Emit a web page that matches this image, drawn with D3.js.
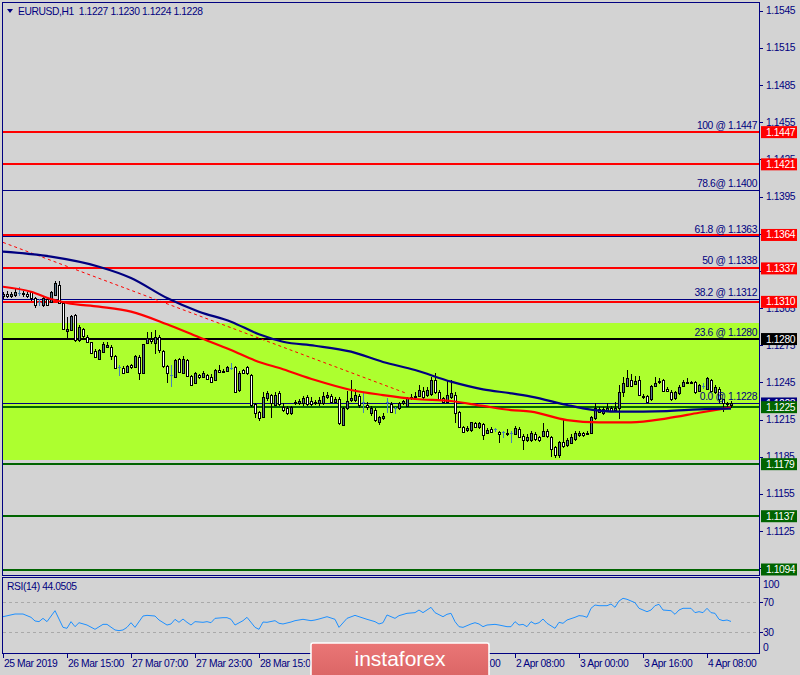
<!DOCTYPE html>
<html><head><meta charset="utf-8">
<script src="https://cdn.jsdelivr.net/npm/d3@7"></script>
<style>
body{margin:0;background:#d3d3d3;}
svg{display:block;}
text{font-family:"Liberation Sans",Arial,sans-serif;}
</style>
</head><body>
<svg id="c" width="800" height="675"></svg>
<script>
// ---------------- DATA ----------------
const titleText = "EURUSD,H1  1.1227 1.1230 1.1224 1.1228";
const rsiTitle = "RSI(14) 44.0505";

const opens = [1.1315,1.1316,1.1315,1.13155,1.1317,1.1317,1.1316,1.1318,1.1313,1.1310,
 1.13075,1.1312,1.1310,1.13155,1.13236,1.13088,1.12868,1.12873,1.12994,1.12792,
 1.12878,1.12819,1.12779,1.12706,1.12636,1.12698,1.12738,1.12738,1.12663,1.12577,
 1.12569,1.12537,1.12593,1.12577,1.12658,1.12529,1.12771,1.12803,1.12771,1.12819,
 1.12706,1.12582,1.1251,1.12496,1.12636,1.12529,1.12631,1.12502,1.12442,1.1251,
 1.12496,1.1251,1.12491,1.12469,1.1255,1.12537,1.1254,1.1257,1.12572,1.12389,
 1.1255,1.12572,1.1251,1.12276,1.12214,1.12173,1.12327,1.12348,1.12268,1.12362,
 1.12254,1.12246,1.12205,1.12281,1.12281,1.12281,1.1233,1.1230,1.12281,1.12287,
 1.12287,1.1233,1.12341,1.12295,1.12314,1.12106,1.12241,1.12308,1.12308,1.12341,
 1.1229,1.12268,1.12206,1.12227,1.12133,1.1216,1.12295,1.12276,1.1224,1.12241,
 1.12281,1.12262,1.12322,1.12335,1.12341,1.12381,1.12348,1.12356,1.12469,1.12375,
 1.12322,1.12295,1.12335,1.12348,1.12214,1.12093,1.12066,1.12066,1.1212,1.12088,
 1.12112,1.1204,1.12074,1.1207,1.12047,1.1205,1.12036,1.1204,1.12036,1.12074,
 1.1202,1.11985,1.11985,1.12034,1.12007,1.12018,1.12058,1.12007,1.11931,1.11864,
 1.11966,1.11945,1.11964,1.11991,1.12026,1.12039,1.12039,1.12039,1.1216,1.12233,
 1.1220,1.12227,1.1224,1.12227,1.12241,1.1237,1.12422,1.12469,1.12435,1.12469,
 1.12341,1.12341,1.12313,1.12421,1.12455,1.12469,1.12394,1.12375,1.12322,1.12362,
 1.12424,1.12443,1.12451,1.12451,1.12383,1.1242,1.1240,1.12469,1.12375,1.1240,
 1.12313,1.12286,1.1227];
const highs = [1.1318,1.1319,1.1318,1.1320,1.1322,1.1319,1.1318,1.1319,1.1314,1.1312,
 1.1314,1.1313,1.1319,1.13265,1.13265,1.1310,1.1298,1.12994,1.1300,1.12913,
 1.1289,1.1283,1.1278,1.1272,1.1272,1.1278,1.1278,1.1275,1.1267,1.1259,
 1.1258,1.1259,1.1260,1.1267,1.1267,1.1276,1.1286,1.1286,1.1287,1.1283,
 1.1271,1.1259,1.1259,1.1264,1.1265,1.1266,1.1264,1.1251,1.1253,1.1252,
 1.1254,1.1252,1.1252,1.1256,1.1259,1.1256,1.1258,1.1261,1.1258,1.1254,
 1.1256,1.1258,1.1252,1.1228,1.1222,1.12375,1.1238,1.1236,1.1237,1.1238,
 1.1228,1.1226,1.1226,1.1231,1.1232,1.1234,1.1235,1.1233,1.1231,1.1233,
 1.1237,1.1237,1.1236,1.1233,1.1233,1.1225,1.1238,1.12469,1.1240,1.1236,
 1.12362,1.1229,1.1226,1.1224,1.1218,1.1220,1.12322,1.1229,1.1225,1.1229,
 1.1231,1.1233,1.1236,1.1237,1.1243,1.1241,1.1241,1.12496,1.12523,1.1239,
 1.1233,1.12469,1.12469,1.1237,1.1222,1.1210,1.1210,1.1213,1.1213,1.1213,
 1.1212,1.1208,1.1209,1.12085,1.1206,1.12058,1.1207,1.1206,1.1210,1.1209,
 1.1203,1.1203,1.1206,1.1205,1.1202,1.1212,1.1207,1.1202,1.1194,1.1198,
 1.12147,1.1200,1.1203,1.1206,1.1206,1.1205,1.1206,1.1218,1.12281,1.1225,
 1.1225,1.12281,1.1226,1.12295,1.12429,1.12496,1.1255,1.1252,1.1250,1.1250,
 1.1236,1.1235,1.1243,1.12496,1.12483,1.1248,1.1241,1.1239,1.1238,1.1243,
 1.1247,1.12483,1.1246,1.1246,1.1244,1.12443,1.12496,1.1248,1.1243,1.1241,
 1.1232,1.1229,1.1230];
const lows = [1.1312,1.1313,1.1313,1.1314,1.1315,1.1314,1.1313,1.1311,1.1305,1.13065,
 1.1306,1.1307,1.1309,1.1315,1.1308,1.1287,1.12806,1.1287,1.1278,1.1278,
 1.1281,1.1277,1.1268,1.1265,1.1263,1.1269,1.1273,1.1263,1.1256,1.1250,
 1.1252,1.1253,1.1256,1.1257,1.1247,1.1252,1.1276,1.1276,1.1268,1.1269,
 1.1257,1.12442,1.12415,1.1249,1.1253,1.1252,1.1249,1.1242,1.1244,1.1248,
 1.1249,1.1247,1.1245,1.1246,1.1253,1.1253,1.1253,1.1255,1.1237,1.1237,
 1.1252,1.1251,1.1225,1.1216,1.1214,1.1216,1.1230,1.1216,1.1226,1.1226,
 1.1221,1.1219,1.1219,1.1227,1.1227,1.1226,1.1226,1.1226,1.1227,1.1226,
 1.1227,1.1232,1.1228,1.1228,1.1211,1.1210,1.1223,1.1229,1.1229,1.1224,
 1.1220,1.1223,1.1218,1.1213,1.1211,1.1215,1.12205,1.1220,1.12195,1.1223,
 1.1227,1.1225,1.1231,1.1233,1.1233,1.1232,1.1233,1.1234,1.1236,1.1230,
 1.1228,1.1228,1.1232,1.1212,1.1208,1.1204,1.1205,1.1205,1.1208,1.1207,
 1.11985,1.1203,1.1204,1.1205,1.1196,1.12004,1.1202,1.11958,1.1203,1.1200,
 1.11904,1.1197,1.1197,1.1198,1.1197,1.1201,1.1200,1.11851,1.11837,1.1184,
 1.1192,1.1193,1.1195,1.1198,1.1201,1.1201,1.1203,1.1203,1.1215,1.1220,
 1.1219,1.1222,1.1221,1.1222,1.12152,1.12335,1.1241,1.1241,1.1243,1.1234,
 1.1232,1.12281,1.1230,1.1241,1.1244,1.1237,1.1237,1.1230,1.1231,1.1235,
 1.1241,1.1244,1.1244,1.1236,1.1237,1.1240,1.1239,1.1237,1.1236,1.1228,
 1.12214,1.12254,1.1224];
const closes = [1.1316,1.1315,1.1316,1.1318,1.1317,1.1316,1.1315,1.1313,1.13075,1.1310,
 1.1313,1.13075,1.1318,1.1325,1.13088,1.12878,1.12878,1.12986,1.12792,1.1290,
 1.12824,1.12779,1.1269,1.12652,1.12711,1.1276,1.12752,1.12663,1.12564,1.12577,
 1.12529,1.12582,1.12572,1.12663,1.12523,1.12757,1.12806,1.12787,1.12814,1.12711,
 1.12582,1.12523,1.1251,1.12631,1.12537,1.12639,1.12502,1.12426,1.12523,1.12491,
 1.12529,1.1248,1.12456,1.1255,1.12537,1.12545,1.12572,1.1257,1.12375,1.12529,
 1.12529,1.12523,1.12268,1.12206,1.1216,1.12335,1.12367,1.12281,1.12348,1.12276,
 1.12227,1.1220,1.12249,1.12295,1.12303,1.12322,1.12276,1.12276,1.12295,1.12308,
 1.12341,1.12348,1.12295,1.12314,1.1212,1.12241,1.1230,1.12322,1.12348,1.12268,
 1.1229,1.12254,1.12241,1.12147,1.12168,1.12179,1.12295,1.12214,1.1224,1.12281,
 1.1230,1.12322,1.12335,1.12343,1.12389,1.12335,1.12389,1.12469,1.12375,1.12308,
 1.12295,1.12348,1.12367,1.12206,1.12093,1.12052,1.12079,1.12128,1.12093,1.12125,
 1.12026,1.12066,1.12047,1.1207,1.1203,1.1205,1.12044,1.1204,1.12082,1.12012,
 1.11988,1.12012,1.12039,1.11993,1.11985,1.12058,1.12018,1.1191,1.11864,1.11972,
 1.11937,1.11985,1.12012,1.12039,1.12045,1.12026,1.12045,1.12173,1.1224,1.12208,
 1.12233,1.1224,1.12222,1.12246,1.12375,1.12443,1.12483,1.12422,1.12461,1.12348,
 1.12333,1.12294,1.12418,1.12443,1.12463,1.12383,1.12383,1.12316,1.1237,1.12416,
 1.12456,1.12456,1.12447,1.12375,1.12429,1.1242,1.12483,1.12383,1.12416,1.12313,
 1.12281,1.1228,1.1228];

// moving averages (sampled at bar indices)
const maBlueBars = [0,12,24,32,41,49,57,64,70,78,87,95,103,112,120,127,132,141,145,154,166,174,182];
const maBlueVals = [1.13505,1.13465,1.13384,1.13293,1.13131,1.13021,1.1294,1.12838,1.12778,1.12746,1.12698,1.12615,1.1255,1.12456,1.12394,1.12362,1.12335,1.12268,1.12241,1.12214,1.12219,1.12233,1.12238];
const maRedBars = [0,7,12,16,24,32,41,49,57,63,70,78,87,95,103,112,120,127,132,141,149,157,166,174,182];
const maRedVals = [1.13222,1.13182,1.13123,1.13091,1.13061,1.13021,1.12919,1.12814,1.12711,1.12627,1.12556,1.12469,1.12389,1.12348,1.12316,1.123,1.1226,1.12227,1.12214,1.12146,1.12128,1.12128,1.1216,1.12205,1.12248];

// RSI(14)
const rsiBars = [0,3,5,7,8,9,10,11,13,15,16,17,18,19,21,23,25,26,28,29,30,31,32,33,35,36,38,39,41,42,43,44,45,46,47,48,50,51,52,53,55,56,57,58,60,61,63,64,65,66,68,69,70,72,73,75,77,78,79,81,83,84,86,88,89,91,93,94,95,96,98,99,101,103,104,105,107,108,110,111,112,113,114,115,117,118,119,120,121,123,124,126,127,128,129,130,131,132,133,134,135,136,138,139,140,141,143,144,145,146,147,148,149,151,152,153,154,155,156,158,159,161,162,163,164,165,167,168,169,170,172,173,174,175,176,177,178,179,180,181,182];
const rsiVals = [50.4,54,54,49.6,44.7,43.8,48.2,43.8,58.4,36.2,34.9,43.8,37.1,42.4,39.3,33.6,40.2,40.2,32.7,31.8,32.7,36.2,42.4,36.2,51.3,52.2,51.3,46,39.3,40.7,46.9,42.9,47.3,42.9,39.3,43.8,42.9,43.8,42.4,48.2,49.1,49.1,46.9,39.3,45.1,49.6,36.2,33.6,43.3,42.9,45.1,41.6,40.7,43.3,45.1,46.9,45.1,46,47.3,50.4,46.9,36.2,48.2,52.2,50.4,46.9,43.8,40.7,42.4,52.7,48.2,51.8,54.9,55.8,59.3,55.8,62.9,55.8,50.4,53.6,54.9,43.8,37.1,36.2,40.7,42.4,40.7,37.1,39.3,40.2,39.3,37.1,37.1,43.8,39.3,40.2,37.1,43.8,40.7,42.4,47.3,41.6,34.9,42.9,41.6,46,49.6,51.8,51.3,49.6,61.6,66,65.1,65.1,67.3,62.9,71.3,74.9,73.6,69.1,61.6,57.1,59.3,65.1,66.9,59.3,58.4,53.6,59.3,61.6,61.6,55.8,57.1,55.8,61.6,55.8,54.9,46.9,45.1,46,44.05];
const rsiLevels = [70, 30];
const rsiTickVals = [100, 70, 30, 0];

const priceTicks = [1.1545,1.1515,1.1485,1.1455,1.1425,1.1395,1.1365,1.1335,1.1305,1.1275,1.1245,1.1215,1.1185,1.1155,1.1125,1.1095];
const timeLabelBars = [0,16,32,48,64,80,96,112,128,144,160,176];
const timeLabels = ["25 Mar 2019","26 Mar 15:00","27 Mar 07:00","27 Mar 23:00","28 Mar 15:00","29 Mar 07:00","29 Mar 23:00","1 Apr 16:00","2 Apr 08:00","3 Apr 00:00","3 Apr 16:00","4 Apr 08:00"];

const levelPrices = [1.1447,1.1421,1.1364,1.1337,1.1310,1.1280,1.1225,1.1179,1.1137,1.1094];
const levelColors = ["#ff0000","#ff0000","#ff0000","#ff0000","#ff0000","#000000","#006400","#006400","#006400","#006400"];
const fibPrices = [1.1447,1.1400,1.1363,1.1338,1.1312,1.1280,1.1228];
const fibTexts = ["100 @ 1.1447","78.6@ 1.1400","61.8 @ 1.1363","50 @ 1.1338","38.2 @ 1.1312","23.6 @ 1.1280","0.0 @ 1.1228"];
const zonePrices = [1.1293, 1.1182];
const trendBars = [0, 101];
const trendPrices = [1.1358, 1.1236];
const lastPrice = 1.1228;

// ---------------- LAYOUT ----------------
const W = 800, H = 675;
const L = 2, R = 759;
const mainTop = 2, mainBot = 575;
const rsiTop = 577, rsiBot = 653;
const navy = "#000080";

const svg = d3.select("#c");
const x = d3.scaleLinear().domain([0, 182]).range([3, 731]);
const y = d3.scaleLinear().domain([1.1545, 1.1094]).range([10.7, 569.5]);
const yr = d3.scaleLinear().domain([0, 100]).range([654.5, 579.5]);
const ls = "-0.4px";
const fs = "10.3px";

svg.append("rect").attr("width", W).attr("height", H).attr("fill", "#d3d3d3");

const main = svg.append("g");
svg.append("clipPath").attr("id", "mclip").append("rect")
  .attr("x", L + 1).attr("y", mainTop + 1).attr("width", R - L - 1).attr("height", mainBot - mainTop - 1);
const pg = main.append("g").attr("clip-path", "url(#mclip)").attr("shape-rendering", "crispEdges");

// zone rectangle
pg.append("rect").attr("x", L).attr("width", R - L)
  .attr("y", y(zonePrices[0])).attr("height", y(zonePrices[1]) - y(zonePrices[0]))
  .attr("fill", "#adff2f");

// fib lines
pg.selectAll(".fib").data(fibPrices).enter().append("line")
  .attr("x1", L).attr("x2", R).attr("y1", d => Math.round(y(d)) + 0.5).attr("y2", d => Math.round(y(d)) + 0.5)
  .attr("stroke", navy).attr("stroke-width", 1);

// horizontal levels
pg.selectAll(".lvl").data(levelPrices).enter().append("line")
  .attr("x1", L).attr("x2", R).attr("y1", d => Math.round(y(d))).attr("y2", d => Math.round(y(d)))
  .attr("stroke", (d, i) => levelColors[i]).attr("stroke-width", 2);

// dashed trend line
pg.append("line")
  .attr("x1", x(trendBars[0])).attr("y1", y(trendPrices[0]))
  .attr("x2", x(trendBars[1])).attr("y2", y(trendPrices[1]))
  .attr("stroke", "#ff0000").attr("stroke-width", 1).attr("stroke-dasharray", "3,3")
  .attr("shape-rendering", "auto");

// fib texts
main.selectAll(".fibt").data(fibPrices).enter().append("text")
  .attr("x", 757).attr("y", d => y(d) - 3).attr("text-anchor", "end")
  .attr("font-size", fs).attr("letter-spacing", ls).attr("fill", navy)
  .text((d, i) => fibTexts[i]);

// candles
const cg = pg.append("g");
d3.range(opens.length).forEach(i => {
  const cx = Math.round(x(i));
  const o = opens[i], c = closes[i], h = highs[i], l = lows[i];
  const yh = Math.round(y(h)), yl = Math.round(y(l));
  const doji = o === c;
  const wickCol = doji ? "#4682b4" : "#000000";
  cg.append("rect").attr("x", cx).attr("y", yh).attr("width", 1).attr("height", Math.max(1, yl - yh)).attr("fill", wickCol);
  if (doji) {
    cg.append("rect").attr("x", cx - 1).attr("y", Math.round(y(o))).attr("width", 3).attr("height", 1).attr("fill", "#4682b4");
  } else {
    const yt = Math.round(y(Math.max(o, c))), yb = Math.round(y(Math.min(o, c)));
    const hh = Math.max(1, yb - yt);
    cg.append("rect").attr("x", cx - 1).attr("y", yt).attr("width", 3).attr("height", hh + 1).attr("fill", "#000000");
    if (hh > 1) {
      cg.append("rect").attr("x", cx).attr("y", yt + 1).attr("width", 1).attr("height", hh - 1)
        .attr("fill", c > o ? "#5a7590" : "#ffffff");
    }
  }
});

// moving averages
const lineGen = d3.line().x(d => x(d[0])).y(d => y(d[1])).curve(d3.curveMonotoneX);
pg.append("path").datum(maRedBars.map((b, i) => [b, maRedVals[i]]))
  .attr("d", lineGen).attr("fill", "none").attr("stroke", "#ff0000").attr("stroke-width", 2.2).attr("shape-rendering", "auto");
pg.append("path").datum(maBlueBars.map((b, i) => [b, maBlueVals[i]]))
  .attr("d", lineGen).attr("fill", "none").attr("stroke", "#000080").attr("stroke-width", 2.2).attr("shape-rendering", "auto");

// frames
svg.append("rect").attr("x", L + 0.5).attr("y", mainTop + 0.5).attr("width", R - L).attr("height", mainBot - mainTop)
  .attr("fill", "none").attr("stroke", navy).attr("stroke-width", 1);
svg.append("rect").attr("x", L + 0.5).attr("y", rsiTop + 0.5).attr("width", R - L).attr("height", rsiBot - rsiTop)
  .attr("fill", "none").attr("stroke", navy).attr("stroke-width", 1);

// price axis ticks + labels
const ax = svg.append("g");
ax.selectAll(".pt").data(priceTicks).enter().append("line")
  .attr("x1", R).attr("x2", R + 4).attr("y1", d => Math.round(y(d)) + 0.5).attr("y2", d => Math.round(y(d)) + 0.5)
  .attr("stroke", navy);
ax.selectAll(".ptl").data(priceTicks).enter().append("text")
  .attr("x", 766).attr("y", d => y(d) + 3.5).attr("font-size", fs).attr("letter-spacing", ls)
  .attr("fill", navy).text(d => d.toFixed(4));

// current price box (behind)
ax.append("rect").attr("x", 761).attr("y", y(lastPrice) - 6).attr("width", 36).attr("height", 12).attr("fill", navy);
ax.append("text").attr("x", 766).attr("y", y(lastPrice) + 3.5).attr("font-size", fs).attr("letter-spacing", ls)
  .attr("fill", "#ffffff").text(lastPrice.toFixed(4));

// level boxes
levelPrices.forEach((p, i) => {
  ax.append("rect").attr("x", 761).attr("y", y(p) - 6).attr("width", 36).attr("height", 12).attr("fill", levelColors[i]);
  ax.append("text").attr("x", 766).attr("y", y(p) + 3.5).attr("font-size", fs).attr("letter-spacing", ls)
    .attr("fill", "#ffffff").text(p.toFixed(4));
});

// title
svg.append("path").attr("d", "M7,9 L13,9 L10,13 Z").attr("fill", navy);
svg.append("text").attr("x", 18).attr("y", 15).attr("font-size", fs).attr("letter-spacing", ls)
  .attr("fill", navy).style("white-space", "pre").text(titleText);

// RSI panel
const rg = svg.append("g");
rg.selectAll(".rl").data(rsiLevels).enter().append("line")
  .attr("x1", L + 1).attr("x2", R).attr("y1", d => Math.round(yr(d)) + 0.5).attr("y2", d => Math.round(yr(d)) + 0.5)
  .attr("stroke", "#a9a9a9").attr("stroke-dasharray", "3,3");
rg.append("path").datum(rsiBars.map((b, i) => [b, rsiVals[i]]))
  .attr("d", d3.line().x(d => x(d[0])).y(d => yr(d[1])))
  .attr("fill", "none").attr("stroke", "#1e90ff").attr("stroke-width", 1);
rg.append("text").attr("x", 7).attr("y", 590).attr("font-size", fs).attr("letter-spacing", ls)
  .attr("fill", navy).text(rsiTitle);
rg.selectAll(".rtl").data(rsiTickVals).enter().append("text")
  .attr("x", 763).attr("y", d => Math.min(651, Math.max(588, yr(d) + 3.5)))
  .attr("font-size", fs).attr("letter-spacing", ls).attr("fill", navy).text(d => d);
rg.selectAll(".rt").data(rsiLevels).enter().append("line")
  .attr("x1", R).attr("x2", R + 4).attr("y1", d => Math.round(yr(d)) + 0.5).attr("y2", d => Math.round(yr(d)) + 0.5)
  .attr("stroke", navy);

// time axis
const tg = svg.append("g");
tg.selectAll(".tt").data(timeLabelBars).enter().append("line")
  .attr("x1", d => Math.round(x(d)) + 0.5).attr("x2", d => Math.round(x(d)) + 0.5)
  .attr("y1", rsiBot).attr("y2", rsiBot + 5).attr("stroke", navy);
tg.selectAll(".ttl").data(timeLabelBars).enter().append("text")
  .attr("x", d => x(d) + 1).attr("y", 667).attr("font-size", fs).attr("letter-spacing", ls)
  .attr("fill", navy).text((d, i) => timeLabels[i]);

// watermark
const defs = svg.append("defs");
const gr = defs.append("linearGradient").attr("id", "wm").attr("x1", 0).attr("y1", 0).attr("x2", 0).attr("y2", 1);
gr.append("stop").attr("offset", "0%").attr("stop-color", "#ea7676");
gr.append("stop").attr("offset", "100%").attr("stop-color", "#d86262");
svg.append("rect").attr("x", 311).attr("y", 643).attr("width", 178).attr("height", 40)
  .attr("rx", 2).attr("fill", "url(#wm)").attr("stroke", "#ffffff").attr("stroke-width", 1.5);
svg.append("text").attr("x", 400).attr("y", 666).attr("text-anchor", "middle")
  .attr("font-family", "Roboto, 'Open Sans', sans-serif").attr("font-size", "21px")
  .attr("fill", "#ffffff").text("instaforex");
</script>
</body></html>
